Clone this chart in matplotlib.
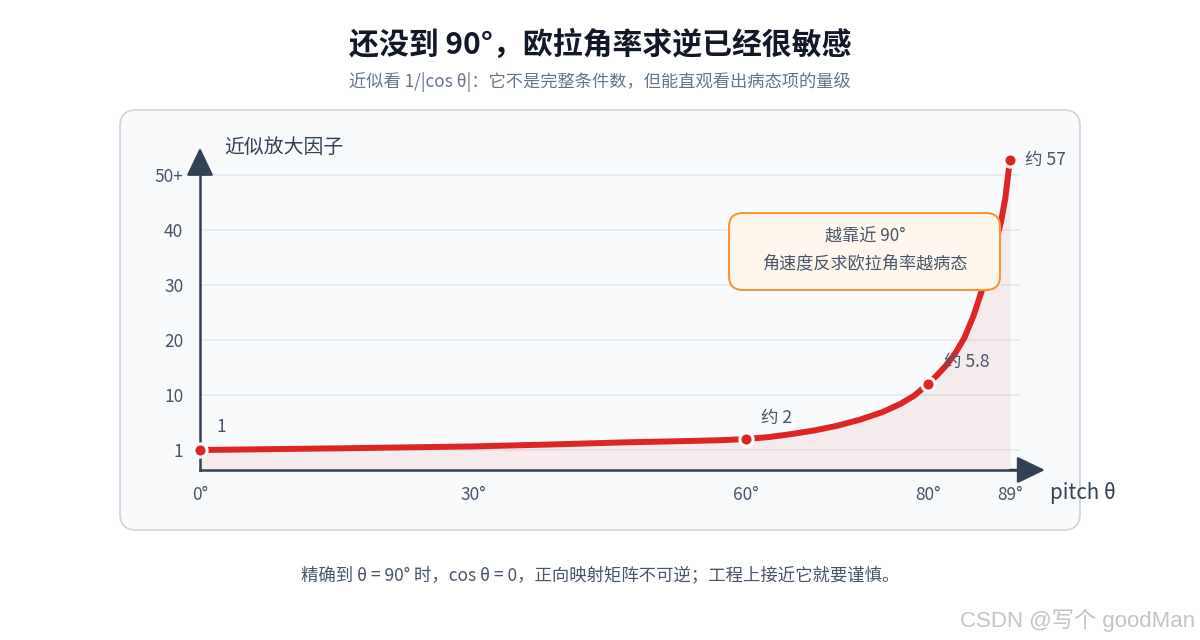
import matplotlib
matplotlib.use("Agg")
import matplotlib.pyplot as plt
from matplotlib.patches import FancyBboxPatch
from matplotlib.transforms import Affine2D

plt.rcParams['font.family'] = ['Noto Sans CJK SC', 'DejaVu Sans']

# 曲线：pitch 角（度）和图上的示意高度（纵轴是示意刻度，读自原图）
PITCH_DEG = [0, 15, 30, 39.6, 46.9, 54.2, 57.5, 60, 62.5, 65, 67.5, 70, 72.5, 75, 77,
             78.5, 80, 81, 82, 83, 84, 85, 86, 87, 88, 88.5, 89]
CURVE_H = [0, 0.3, 0.65, 1.05, 1.4, 1.65, 1.8, 2.0, 2.35, 2.9, 3.55, 4.4, 5.5, 6.9, 8.4,
           9.9, 12, 13.6, 15.4, 17.6, 20.4, 24.4, 29.4, 35, 41.3, 45.8, 52.7]

# 标注点
MARK_DEG = [0, 60, 80, 89]
MARK_H = [0, 2.0, 12, 52.7]
MARK_LABELS = ["1", "约 2", "约 5.8", "约 57"]

X_TICKS = [0, 30, 60, 80, 89]
X_TICK_LABELS = ["0°", "30°", "60°", "80°", "89°"]
Y_TICKS = [0, 10, 20, 30, 40, 50]
Y_TICK_LABELS = ["1", "10", "20", "30", "40", "50+"]

TITLE = "还没到 90°，欧拉角率求逆已经很敏感"
SUBTITLE = "近似看 1/|cos θ|：它不是完整条件数，但能直观看出病态项的量级"
NOTE = ["越靠近 90°", "角速度反求欧拉角率越病态"]
FOOTER = "精确到 θ = 90° 时，cos θ = 0，正向映射矩阵不可逆；工程上接近它就要谨慎。"

RED = '#dc2626'
AXIS = '#334155'
TEXT = '#475569'
GRID = '#e2e8f0'

fig = plt.figure(figsize=(12, 6.4), dpi=100)
fig.patch.set_facecolor('white')
# coordonnées en pixels, origine en haut à gauche
px = Affine2D().scale(1 / 1200, -1 / 640).translate(0, 1) + fig.transFigure

panel = FancyBboxPatch((120, 110), 960, 420, boxstyle='round,pad=0,rounding_size=16',
                       transform=px, fc='#f8fafc', ec='#cbd5e1', lw=1.2, zorder=-1)
fig.add_artist(panel)

# axes: 0° -> x=200px, 9.1 px/deg ; hauteur 0 -> y=450px, 5.5 px/unité
ax = fig.add_axes([120 / 1200, 110 / 640, 960 / 1200, 420 / 640])
ax.set_facecolor('none')
ax.set_xlim((120 - 200) / 9.1, (1080 - 200) / 9.1)
ax.set_ylim((450 - 530) / 5.5, (450 - 110) / 5.5)
y_base = (450 - 470) / 5.5

ax.hlines(Y_TICKS, 0, 90.1, color=GRID, lw=1.1, zorder=1)
ax.fill_between(PITCH_DEG, CURVE_H, y_base, color=RED, alpha=0.07, lw=0, zorder=1)
ax.plot(PITCH_DEG, CURVE_H, color=RED, lw=4.3, solid_capstyle='round',
        solid_joinstyle='round', zorder=3)
ax.plot(MARK_DEG, MARK_H, 'o', ms=9.5, mfc=RED, mec='white', mew=2.2, zorder=4, clip_on=False)

label_offsets = [(17, 23), (15, 21), (16, 22), (15, 0)]
for d, h, txt, off in zip(MARK_DEG, MARK_H, MARK_LABELS, label_offsets):
    ax.annotate(txt, (d, h), xytext=off, textcoords='offset pixels', ha='left', va='center',
                fontsize=12.6, color=TEXT, zorder=5)

for side in ('top', 'right'):
    ax.spines[side].set_visible(False)
ax.spines['left'].set_position(('data', 0))
ax.spines['left'].set_bounds(y_base, 52)
ax.spines['bottom'].set_position(('data', y_base))
ax.spines['bottom'].set_bounds(0, 91)
for side in ('left', 'bottom'):
    ax.spines[side].set_color(AXIS)
    ax.spines[side].set_linewidth(1.8)

arrow = dict(arrowstyle='-|>,head_length=1,head_width=0.48', mutation_scale=17.3,
             color=AXIS, lw=1.8, shrinkA=0, shrinkB=0)
ax.annotate('', xy=(0, (450 - 147.7) / 5.5), xytext=(0, 50), arrowprops=arrow)
ax.annotate('', xy=((1045 - 200) / 9.1, y_base), xytext=(89, y_base), arrowprops=arrow)

ax.set_xticks(X_TICKS, X_TICK_LABELS)
ax.set_yticks(Y_TICKS, Y_TICK_LABELS)
ax.tick_params(axis='x', length=0, pad=11.5, labelsize=12.5, labelcolor=TEXT)
ax.tick_params(axis='y', length=0, pad=12, labelsize=12.5, labelcolor=TEXT)

ax.text((224 - 200) / 9.1, (450 - 147.7) / 5.5, "近似放大因子", ha='left', va='center',
        fontsize=14.3, color=AXIS)
ax.text((1050 - 200) / 9.1, (450 - 493) / 5.5, "pitch θ", ha='left', va='center',
        fontsize=14.8, color=AXIS, clip_on=False)

note_box = FancyBboxPatch((729, 213), 271, 77, boxstyle='round,pad=0,rounding_size=14',
                          transform=px, fc='#fff7ed', ec='#fb923c', lw=1.5, zorder=5)
fig.add_artist(note_box)
fig.text(865, 236.7, NOTE[0], transform=px, ha='center', va='center', fontsize=12.3,
         color=TEXT, zorder=6)
fig.text(865, 264.3, NOTE[1], transform=px, ha='center', va='center', fontsize=12.3,
         color=TEXT, zorder=6)

fig.text(600, 45, TITLE, transform=px, ha='center', va='center', fontsize=21.5,
         fontweight='bold', color='#111827')
fig.text(600, 82, SUBTITLE, transform=px, ha='center', va='center', fontsize=12.4,
         color='#64748b')
fig.text(600, 575, FOOTER, transform=px, ha='center', va='center', fontsize=12.5,
         color=TEXT)
fig.text(1195, 620, "CSDN @写个 goodMan", transform=px, ha='right', va='center',
         fontsize=16, color='#c4c4c4', family=['Liberation Sans', 'Noto Sans CJK SC'])

fig.savefig('out.png', dpi=100, facecolor='white')
